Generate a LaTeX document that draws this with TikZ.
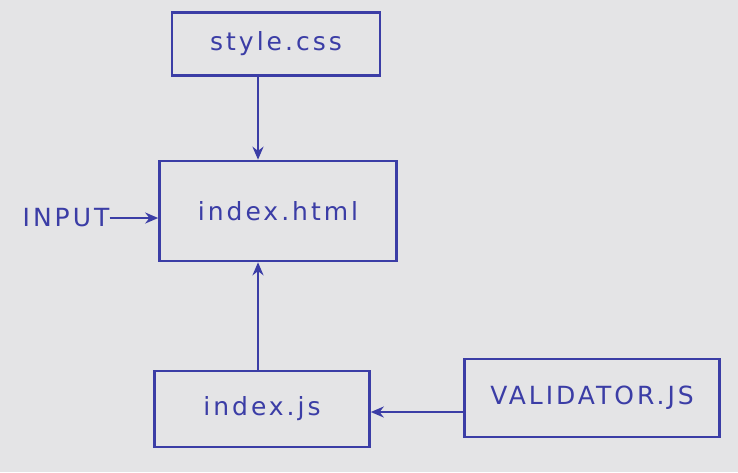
\documentclass[tikz,border=0pt]{standalone}
\usepackage{fontspec}
\setmainfont[LetterSpace=12]{DejaVu Sans}
\usetikzlibrary{arrows.meta}
\definecolor{ink}{HTML}{3B3DA6}
\definecolor{paper}{HTML}{E4E4E6}
\begin{document}
\begin{tikzpicture}[x=1pt,y=-1pt,
  box/.style={draw=ink,line width=2.6pt,text=ink,font=\fontsize{25}{28}\selectfont,inner sep=0pt,anchor=center},
  conn/.style={draw=ink,line width=2.6pt,-{Stealth[length=13pt,width=11pt]}}]
\fill[paper] (0,0) rectangle (738,472);
\useasboundingbox (0,0) rectangle (738,472);
\node[box,minimum width=208pt,minimum height=63pt] (css) at (276,44) {style.css};
\node[box,minimum width=237pt,minimum height=100pt] (html) at (278,211) {index.html};
\node[box,minimum width=215pt,minimum height=76pt] (js) at (262,409) {index.js};
\node[box,minimum width=255pt,minimum height=78pt] (val) at (592,398) {VALIDATOR.JS};
\node[text=ink,font=\fontsize{25}{28}\selectfont,inner sep=0pt] (in) at (66,218) {INPUT};
\draw[conn] (css.south -| 258,0) -- (html.north -| 258,0);
\draw[conn] (js.north -| 258,0) -- (html.south -| 258,0);
\draw[conn] (in.east) -- (in.east -| html.west);
\draw[conn] (val.west |- 0,412) -- (js.east |- 0,412);
\end{tikzpicture}
\end{document}
